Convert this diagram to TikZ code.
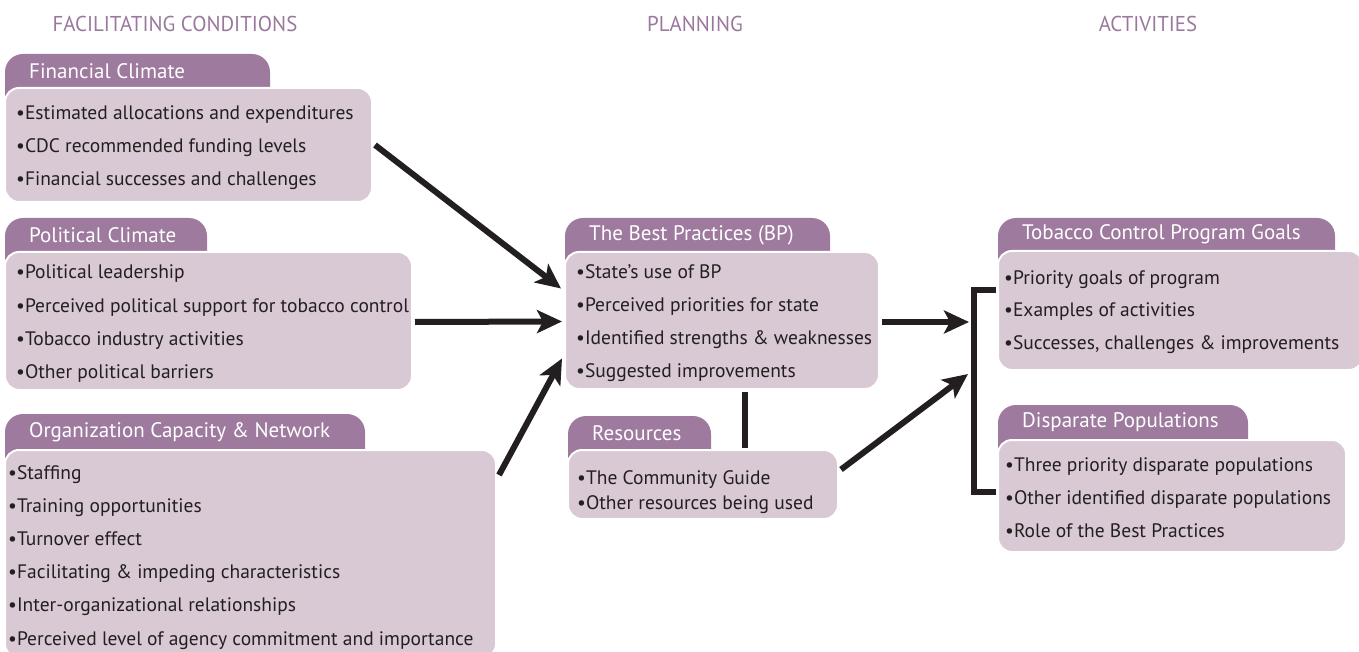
\documentclass[tikz,border=0pt]{standalone}
\usepackage{fontspec}
\setmainfont{PT Sans}
\newfontfamily\headfont[FakeStretch=0.97]{PT Sans}
\usetikzlibrary{arrows.meta,calc}
\definecolor{tabcol}{HTML}{9E7A9E}
\definecolor{bodycol}{HTML}{D8C9D5}
\definecolor{headcol}{HTML}{9A789E}
\definecolor{ink}{HTML}{231F20}
\tikzset{
  x=1pt, y=-1pt,
  body/.style={anchor=north west, inner sep=0pt, outer sep=0pt, fill=bodycol, draw=white, line width=2pt, rounded corners=14pt},
  tabtext/.style={anchor=west, inner sep=0pt, text=white, font=\fontsize{21}{24}\selectfont},
  item/.style={anchor=base west, inner sep=0pt, text=ink, font=\fontsize{19.5}{22}\selectfont},
  colhead/.style={inner sep=0pt, text=headcol, font=\headfont\fontsize{21.5}{24}\selectfont},
  arr/.style={draw=ink, line width=6pt, -{Stealth[length=25pt,width=23pt,inset=6pt]}},
  plainline/.style={draw=ink, line width=6pt},
  brk/.style={draw=ink, line width=6pt, line join=miter}
}
% #1 name, #2 left x, #3 tab top, #4 tab right, #5 body top, #6 body right, #7 body bottom, #8 title
\newcommand\mypanel[8]{%
  \fill[tabcol, rounded corners=18pt] (#2,#3) rectangle (#4,#5+40);
  \node[body, minimum width={#6-#2}, minimum height={#7-#5}] (#1) at (#2,#5) {};
  \node[tabtext] (#1-title) at (#2+24,{(#3+#5)/2}) {#8};
}
% #1 name, #2 x, #3 first line centre y, #4 step, #5 lines
\newcommand\mylines[5]{%
  \foreach \t [count=\i] in {#5} {
    \node[item] (#1-\i) at (#2,{#3+7+(\i-1)*#4}) {\t};
  }
}
\begin{document}
\begin{tikzpicture}
\useasboundingbox (0,0) rectangle (1359,652);

\node[colhead] (h1) at (175,24) {FACILITATING CONDITIONS};
\node[colhead] (h2) at (695,24) {PLANNING};
\node[colhead] (h3) at (1148,24) {ACTIVITIES};

\mypanel{fc}{5}{54}{270}{88}{372}{202}{Financial Climate}
\mylines{fc}{16}{113}{33}{{•Estimated allocations and expenditures},{•CDC recommended funding levels},{•Financial successes and challenges}}

\mypanel{pc}{5}{218}{207}{252}{412}{390}{Political Climate}
\mylines{pc}{16}{272}{33}{{•Political leadership},{•Perceived political support for tobacco control},{•Tobacco industry activities},{•Other political barriers}}

\mypanel{oc}{5}{414}{365}{450}{496}{658}{Organization Capacity \& Network}
\mylines{oc}{8}{472}{33.2}{{•Staffing},{•Training opportunities},{•Turnover effect},{•Facilitating \& impeding characteristics},{•Inter-organizational relationships},{•Perceived level of agency commitment and importance}}

\mypanel{bp}{565}{218}{830}{252}{879}{389}{The Best Practices (BP)}
\mylines{bp}{576}{271}{33}{{•State's use of BP},{•Perceived priorities for state},{•Identified strengths \& weaknesses},{•Suggested improvements}}

\mypanel{res}{568}{416}{711}{450}{838}{519}{Resources}
\mylines{res}{577}{477}{25}{{•The Community Guide},{•Other resources being used}}

\mypanel{goals}{998}{218}{1335}{251}{1363}{370}{Tobacco Control Program Goals}
\mylines{goals}{1004}{277}{32.5}{{•Priority goals of program},{•Examples of activities},{•Successes, challenges \& improvements}}

\mypanel{dp}{998}{405}{1248}{440}{1346}{552}{Disparate Populations}
\mylines{dp}{1005}{464}{33}{{•Three priority disparate populations},{•Other identified disparate populations},{•Role of the Best Practices}}

% connectors
\draw[arr] ($(fc.east)+(3,0)$) -- ($(bp.west)+(-4,-32)$);
\draw[arr] ($(pc.east)+(3,1)$) -- ($(bp.west)+(-3,1)$);
\draw[arr] ($(oc.north east)+(3,25)$) -- ($(bp.west)+(-3,38)$);
\draw[plainline] ($(bp.south)+(23,3)$) -- ($(res.north)+(42,-2)$);

\coordinate (brT) at (974,290);
\coordinate (brB) at (974,492);
\coordinate (inA) at (969,322);
\coordinate (inB) at (968,374);
\draw[brk] ($(brT -| goals.west)+(-2,0)$) -- (brT) -- (brB) -- ($(brB -| dp.west)+(-2,0)$);
\draw[arr] ($(bp.east)+(3,1.5)$) -- (inA);
\draw[arr] ($(res.east)+(3,-15)$) -- (inB);
\end{tikzpicture}
\end{document}
